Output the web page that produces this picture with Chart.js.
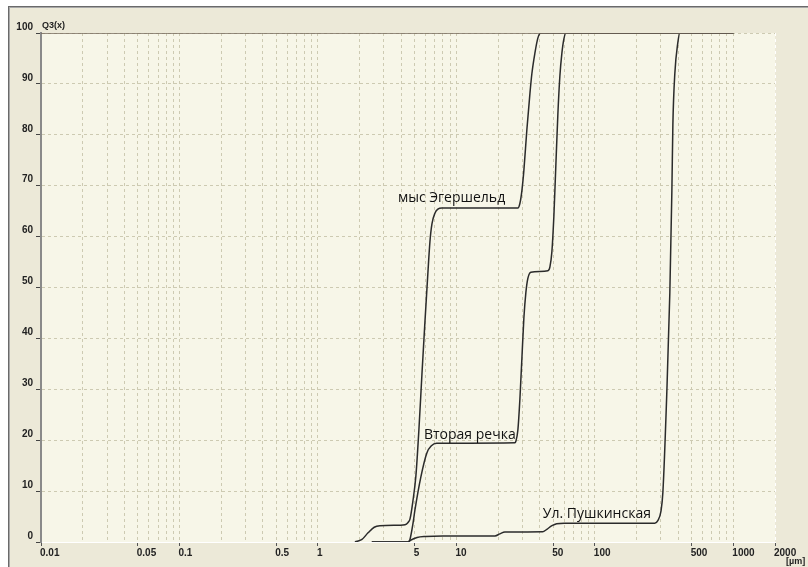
<!DOCTYPE html>
<html><head><meta charset="utf-8">
<script src="https://cdn.jsdelivr.net/npm/chart.js@4"></script>
<style>
html,body{margin:0;padding:0;background:#fff;}
#wrap{position:relative;width:808px;height:567px;overflow:hidden;}
#panel{position:absolute;left:8px;top:6px;right:0;bottom:0;background:#ECE9D8;border-top:1px solid #6a6a6a;border-left:1px solid #6a6a6a;box-shadow:inset 1px 1px 0 #a8a8a8;}
canvas{position:absolute;left:0;top:0;}
</style></head><body>
<div id="wrap"><div id="panel"></div><canvas id="c" width="808" height="567"></canvas></div>
<script>
// ---- data ----
const seriesNames = ['мыс Эгершельд', 'Вторая речка', 'Ул. Пушкинская'];

const egerX = [1.85, 2.08, 2.3, 2.55, 2.8, 3.9, 4.25, 4.46, 4.62, 4.85, 5.10, 5.36, 5.64, 5.92, 6.23, 6.44, 6.66, 7.0, 7.35, 7.86, 27.8, 28.74, 29.71, 30.72, 32.28, 33.94, 35.08, 36.87, 38.75, 40.7, 1000];
const egerY = [0, 0.5, 1.8, 2.9, 3.2, 3.3, 3.4, 3.8, 4.5, 8, 13, 22, 33, 43, 53, 59, 62.5, 64.6, 65.4, 65.6, 65.6, 66.5, 69, 73, 81, 88, 92, 96, 99, 100, 100];

const rechkaX = [2.45, 4.46, 4.62, 4.85, 5.02, 5.54, 6.12, 6.6, 7.2, 26.5, 26.89, 27.8, 28.74, 29.71, 30.72, 31.75, 32.82, 34.5, 45.8, 47.33, 48.93, 50.58, 52.28, 54.05, 55.88, 57.77, 59.72, 61.74, 1000];
const rechkaY = [0, 0, 0.5, 3.5, 6.3, 12.8, 17.5, 18.9, 19.4, 19.5, 19.8, 22, 28, 36, 44, 49, 51.8, 53, 53.3, 54, 57, 64, 74, 84, 91.5, 96, 98.8, 100, 100];

const pushX = [2.45, 4.46, 4.7, 5.2, 6.0, 8.0, 19.0, 20.6, 22.4, 42.0, 45.0, 49.0, 53.0, 60.0, 271, 285, 300, 310, 331, 348, 360, 366, 378, 397, 411, 1000];
const pushY = [0, 0, 0.4, 0.9, 1.1, 1.2, 1.2, 1.6, 1.95, 2.0, 2.5, 3.2, 3.6, 3.7, 3.7, 4.2, 6.0, 9.8, 29.5, 49, 69, 82, 92, 98, 100, 100];

const topLineX = [0.01, 1000];
const topLineY = [100, 100];

const xDecades = [0.01, 0.1, 1, 10, 100];
const xMultipliers = [1, 2, 3, 4, 5, 6, 7, 8, 9];
const xExtraGrid = [1000, 2000];
const xLabelValues = [0.01, 0.05, 0.1, 0.5, 1, 5, 10, 50, 100, 500, 1000, 2000];
const xLabelTexts = ['0.01', '0.05', '0.1', '0.5', '1', '5', '10', '50', '100', '500', '1000', '2000'];
const yTickValues = [0, 10, 20, 30, 40, 50, 60, 70, 80, 90, 100];

const labelTexts = ['мыс Эгершельд', 'Вторая речка', 'Ул. Пушкинская'];
const labelX = [3.78, 5.83, 42.1];
const labelY = [67.6, 21.0, 5.5];

const yTitle = 'Q3(x)';
const xUnit = '[µm]';

// ---- build ----
const xGridValues = [];
xDecades.forEach(d => xMultipliers.forEach(m => xGridValues.push(Number((d * m).toPrecision(6)))));
xExtraGrid.forEach(v => xGridValues.push(v));

function near(a, b) { return Math.abs(Math.log10(a) - Math.log10(b)) < 1e-6; }
function labelFor(v) {
  for (let i = 0; i < xLabelValues.length; i++) if (near(v, xLabelValues[i])) return xLabelTexts[i];
  return '';
}
function pts(xs, ys) { return xs.map((x, i) => ({x: x, y: ys[i]})); }

const curveStyle = {borderColor: '#2b2b2b', borderWidth: 1.5, pointRadius: 0, cubicInterpolationMode: 'monotone', fill: false};

const bgPlugin = {
  id: 'plotbg',
  beforeDraw(chart) {
    const {ctx, chartArea: a} = chart;
    ctx.save();
    ctx.fillStyle = '#F7F6E8';
    ctx.fillRect(a.left, a.top, a.right - a.left, a.bottom - a.top);
    ctx.restore();
  }
};

const textPlugin = {
  id: 'texts',
  afterDatasetsDraw(chart) {
    const {ctx, scales: {x, y}, chartArea: a} = chart;
    ctx.save();
    ctx.fillStyle = '#111';
    ctx.font = '14px "Open Sans", "Noto Sans", sans-serif';
    ctx.textAlign = 'left';
    ctx.textBaseline = 'middle';
    for (let i = 0; i < labelTexts.length; i++) {
      ctx.fillText(labelTexts[i], x.getPixelForValue(labelX[i]), y.getPixelForValue(labelY[i]));
    }
    ctx.font = 'bold 9px "Liberation Sans", Arial, sans-serif';
    ctx.fillStyle = '#222';
    ctx.textBaseline = 'alphabetic';
    ctx.fillText(yTitle, a.left + 1, a.top - 5);
    ctx.fillText(xUnit, a.right + 11, a.bottom + 22);
    ctx.restore();
  }
};

new Chart(document.getElementById('c'), {
  type: 'line',
  data: {
    datasets: [
      Object.assign({label: 'top', data: pts(topLineX, topLineY)}, curveStyle, {borderColor: '#74695b', borderWidth: 1.6, cubicInterpolationMode: 'default', tension: 0}),
      Object.assign({label: seriesNames[0], data: pts(egerX, egerY)}, curveStyle),
      Object.assign({label: seriesNames[1], data: pts(rechkaX, rechkaY)}, curveStyle),
      Object.assign({label: seriesNames[2], data: pts(pushX, pushY)}, curveStyle)
    ]
  },
  options: {
    responsive: false,
    animation: false,
    layout: {padding: {left: 0, top: 33, right: 33, bottom: 0}},
    plugins: {legend: {display: false}, tooltip: {enabled: false}},
    scales: {
      x: {
        type: 'logarithmic',
        min: 0.01, max: 2000,
        afterBuildTicks: (s) => { s.ticks = xGridValues.map(v => ({value: v})); },
        afterFit: (s) => { s.height = 25; },
        ticks: {
          autoSkip: false, maxRotation: 0, minRotation: 0,
          align: 'start', labelOffset: -1, padding: 1,
          color: '#222',
          font: {family: '"Liberation Sans", Arial, sans-serif', size: 10, weight: 'bold'},
          callback: (v) => labelFor(v)
        },
        grid: {
          color: (c) => {
            const v = c.tick ? c.tick.value : 0;
            if (near(v, 0.01)) return 'rgba(0,0,0,0)';
            if (near(v, 2000)) return '#ffffff';
            return '#cdcab2';
          },
          lineWidth: 1,
          tickLength: 4,
          tickColor: (c) => (c.tick && labelFor(c.tick.value) !== '') ? '#555' : 'rgba(0,0,0,0)',
          tickWidth: 1
        },
        border: {display: true, color: '#ffffff', width: 1, dash: [3, 3]}
      },
      y: {
        type: 'linear',
        min: 0, max: 100,
        afterBuildTicks: (s) => { s.ticks = yTickValues.map(v => ({value: v})); },
        afterFit: (s) => { s.width = 41; },
        ticks: {
          padding: 3, labelOffset: -6, color: '#222',
          font: {family: '"Liberation Sans", Arial, sans-serif', size: 10, weight: 'bold'}
        },
        grid: {
          color: (c) => (c.tick && c.tick.value === 0) ? 'rgba(0,0,0,0)' : '#cdcab2',
          lineWidth: 1,
          tickLength: 5,
          tickColor: '#444',
          tickWidth: 1
        },
        border: {display: true, color: '#8a8a8a', width: 2, dash: [3, 3]}
      }
    }
  },
  plugins: [bgPlugin, textPlugin]
});
</script>
</body></html>
